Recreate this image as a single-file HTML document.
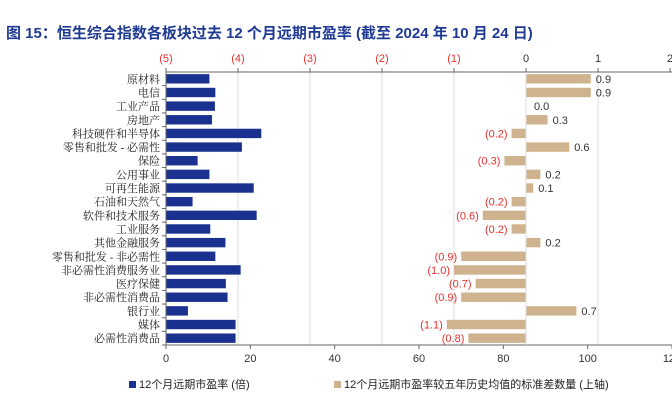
<!DOCTYPE html>
<html><head><meta charset="utf-8"><style>
body{margin:0;background:#fff;width:672px;height:404px;overflow:hidden;font-family:"Liberation Sans","Noto Sans CJK SC",sans-serif}
</style></head><body>
<svg id="c" width="672" height="404" xmlns="http://www.w3.org/2000/svg">
<text x="6" y="38" font-size="15" font-weight="bold" fill="#1f3a93" font-family="Liberation Sans,Noto Sans CJK SC,sans-serif">图 15：恒生综合指数各板块过去 12 个月远期市盈率 (截至 2024 年 10 月 24 日)</text>
</svg>
<script>
const categories=["原材料","电信","工业产品","房地产","科技硬件和半导体","零售和批发 - 必需性","保险","公用事业","可再生能源","石油和天然气","软件和技术服务","工业服务","其他金融服务","零售和批发 - 非必需性","非必需性消费服务业","医疗保健","非必需性消费品","银行业","媒体","必需性消费品"];
const peValues=[10.3,11.7,11.6,10.9,22.6,18.0,7.5,10.3,20.8,6.3,21.5,10.5,14.1,11.7,17.7,14.2,14.6,5.2,16.5,16.5];
const sdValues=[0.9,0.9,0.0,0.3,-0.2,0.6,-0.3,0.2,0.1,-0.2,-0.6,-0.2,0.2,-0.9,-1.0,-0.7,-0.9,0.7,-1.1,-0.8];
const bottomTicks=[0,20,40,60,80,100,120];
const topTicks=[-5,-4,-3,-2,-1,0,1,2];
const svg=document.getElementById('c');const NS='http://www.w3.org/2000/svg';
const L=166,R=672,T=72,B=345;
const xb=v=>L+v*(R-L)/120;
const xt=v=>526+v*72;
const band=(B-T)/categories.length;
function mk(tag,a){const e=document.createElementNS(NS,tag);for(const k in a)e.setAttribute(k,a[k]);svg.appendChild(e);return e;}
topTicks.forEach(t=>{
 if(t!==-5&&t!==0&&t!==2){const g=mk('line',{x1:xt(t),x2:xt(t),y1:T,y2:B,stroke:'#dcdcdc'});
 
 }
 const tx=mk('text',{x:xt(t),y:62,'font-size':11,'text-anchor':'middle',fill:t<0?'#e8312f':'#333'});
 tx.textContent=t<0?'('+(-t)+')':String(t);
 
 
 const tk=mk('line',{x1:xt(t),x2:xt(t),y1:T-4,y2:T,stroke:'#666'});
 
 
});
bottomTicks.forEach(t=>{
 const tk=mk('line',{x1:xb(t),x2:xb(t),y1:B,y2:B+4,stroke:'#666'});
 
 
 const tx=mk('text',{x:xb(t),y:362,'font-size':11,'text-anchor':'middle',fill:'#333'});
 tx.textContent=t;
 
 
});
categories.forEach((c,i)=>{
 const y0=T+i*band,cy=y0+band/2;
 const lb=mk('text',{x:L-6,y:cy+4,'font-size':11,'text-anchor':'end',fill:'#222','font-family':'Liberation Serif,Noto Serif CJK SC,serif'});
 lb.textContent=c;
 
 
 const tk=mk('line',{x1:L-4,x2:L,y1:y0+band,y2:y0+band,stroke:'#666'});
 
 
 const b=mk('rect',{x:L,y:cy-4.7,width:xb(peValues[i])-L,height:9.4,fill:'#1a3190'});
 
 
 const v=sdValues[i];
 const x0=Math.min(xt(0),xt(v)),w=Math.abs(xt(v)-xt(0));
 if(w>0){const s=mk('rect',{x:x0,y:cy-4.7,width:w,height:9.4,fill:'#cfb38f'});
 
 }
 const vt=mk('text',{x:v>=0?xt(v)+5:xt(v)-4,y:cy+4,'font-size':11,'text-anchor':v>=0?'start':'end',fill:v<0?'#e8312f':'#333'});
 vt.textContent=v<0?'('+(-v).toFixed(1)+')':(v===0?'0.0':v.toFixed(1));
 if(v===0)vt.setAttribute('x',xt(0)+8);
 
 
});
[[T],[B]].forEach(([y])=>{const a=mk('line',{x1:L,x2:R,y1:y,y2:y,stroke:'#666'});
 
 });
const la=mk('line',{x1:L,x2:L,y1:T,y2:B,stroke:'#666'});


const z=mk('line',{x1:xt(0),x2:xt(0),y1:T,y2:B,stroke:'#dcdcdc'});


const l1=mk('rect',{x:129,y:381,width:7,height:7,fill:'#1a3190'});


const t1=mk('text',{x:139,y:388,'font-size':11,fill:'#222'});t1.textContent='12个月远期市盈率 (倍)';


const l2=mk('rect',{x:334,y:381,width:7,height:7,fill:'#cfb38f'});


const t2=mk('text',{x:344,y:388,'font-size':11,fill:'#222'});t2.textContent='12个月远期市盈率较五年历史均值的标准差数量 (上轴)';


</script>
</body></html>
